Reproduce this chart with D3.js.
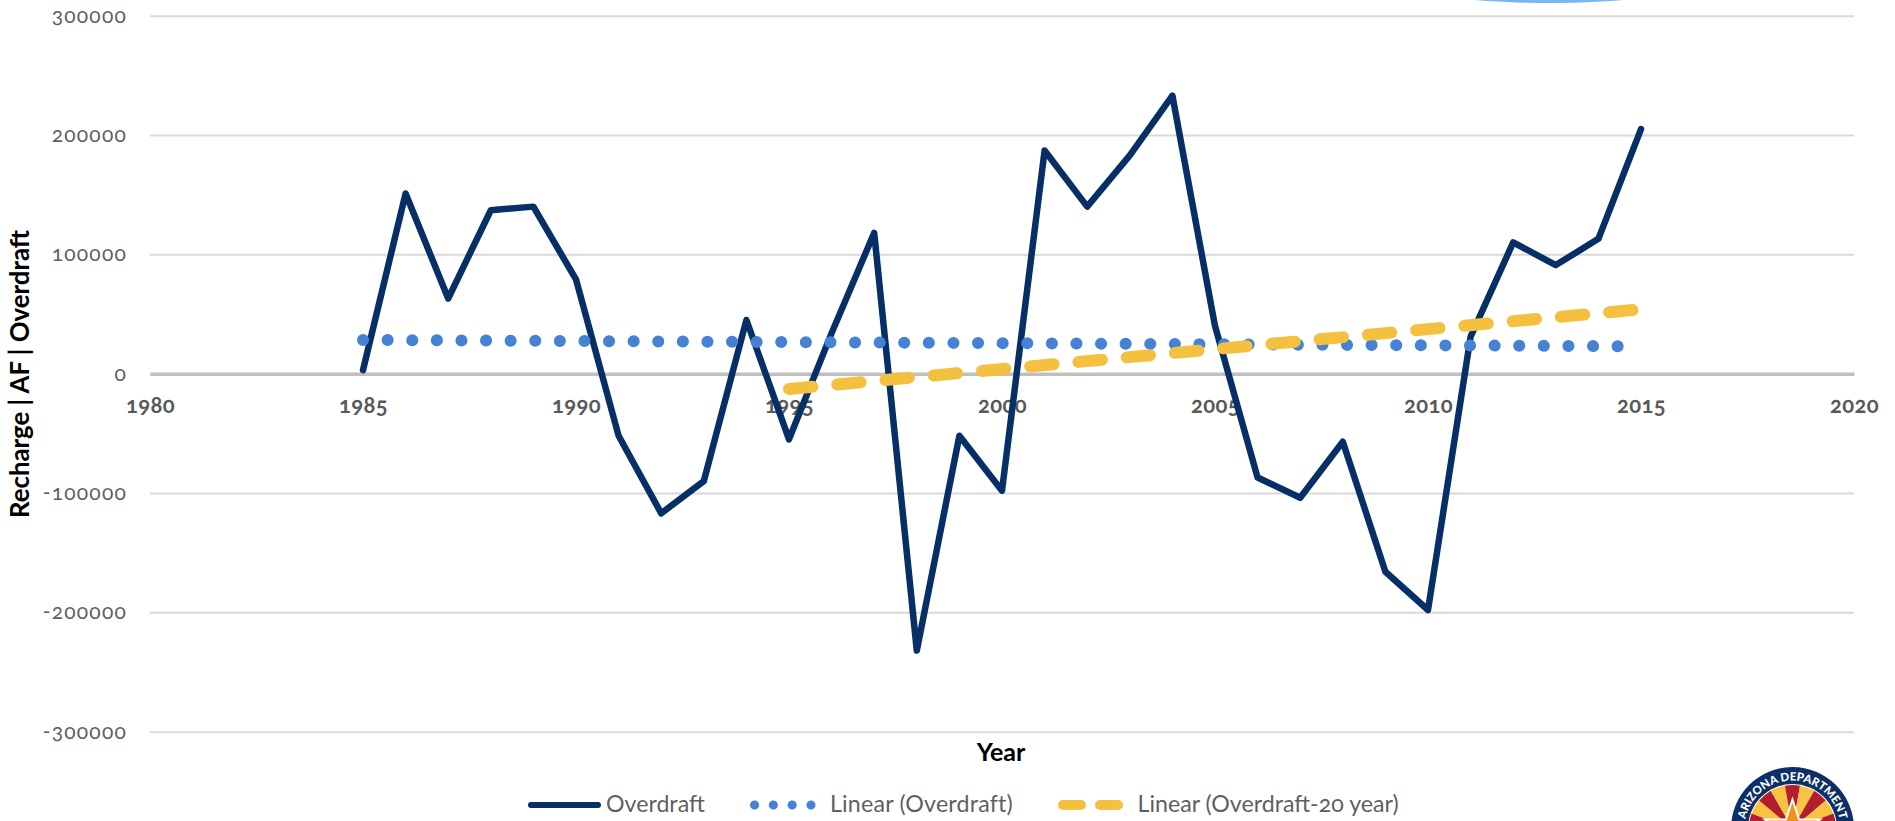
<!DOCTYPE html>
<html><head><meta charset="utf-8">
<script src="https://cdn.jsdelivr.net/npm/d3@7/dist/d3.min.js"></script>
<style>html,body{margin:0;background:#fff;overflow:hidden}svg{display:block}svg text{font-family:Lato,"Open Sans",sans-serif;font-variant-numeric:oldstyle-nums}</style>
</head><body><svg id="c" width="1895" height="821"></svg>
<script>
const years=[1985,1986,1987,1988,1989,1990,1991,1992,1993,1994,1995,1996,1997,1998,1999,2000,2001,2002,2003,2004,2005,2006,2007,2008,2009,2010,2011,2012,2013,2014,2015];
const overdraft=[3000,151000,63000,137000,140000,79000,-52000,-117000,-90000,45000,-55000,34000,118000,-232000,-52000,-98000,187000,140000,183000,233000,40000,-87000,-104000,-57000,-166000,-198000,31000,110000,91000,113000,205000];
const trendAllYears=[1985,2014.5];
const trendAll=[28300,23000];
const trend20Years=[1995,2015];
const trend20=[-12800,54000];
const yTicks=[-300000,-200000,-100000,0,100000,200000,300000];
const xTicks=[1980,1985,1990,1995,2000,2005,2010,2015,2020];
const legendLabels=["Overdraft","Linear (Overdraft)","Linear (Overdraft-20 year)"];
const colors={navy:"#052f66",blue:"#4682d4",gold:"#f4c040"};

const svg=d3.select("#c");
const x=d3.scaleLinear().domain([1980,2020]).range([150,1854]);
const y=d3.scaleLinear().domain([-300000,300000]).range([731.7,15.7]);
const gy=svg.append("g").attr("transform","translate(150,0)")
 .call(d3.axisLeft(y).tickValues(yTicks).tickFormat(d=>String(d)).tickSize(0).tickPadding(23));
gy.select(".domain").remove();
gy.selectAll("text").attr("font-size",21).attr("fill","#5f5f5f").style("letter-spacing","1.2px").attr("dy","0.3em");
gy.selectAll("line").attr("x2",1704).attr("stroke","#d9d9d9").attr("stroke-width",2);
const gx=svg.append("g").attr("transform",`translate(0,${y(0)})`)
 .call(d3.axisBottom(x).tickValues(xTicks).tickFormat(d=>String(d)).tickSize(0).tickPadding(24));
gx.select(".domain").attr("stroke","#bfbfbf").attr("stroke-width",3.5);
gx.selectAll("text").attr("font-size",22).attr("font-weight",700).attr("fill","#595959").style("letter-spacing","0.4px");
const line=d3.line().x(d=>x(d[0])).y(d=>y(d[1]));
svg.append("ellipse").attr("cx",1549).attr("cy",-9).attr("rx",112).attr("ry",12).attr("fill","#7ab6f7");
svg.append("path").datum(years.map((v,i)=>[v,overdraft[i]])).attr("d",line).attr("fill","none").attr("stroke",colors.navy).attr("stroke-width",6.5).attr("stroke-linecap","round").attr("stroke-linejoin","round");
svg.append("path").datum(trendAllYears.map((v,i)=>[v,trendAll[i]])).attr("d",line).attr("fill","none").attr("stroke",colors.blue).attr("stroke-width",12).attr("stroke-linecap","round").attr("stroke-dasharray","0.1 24.5");
svg.append("path").datum(trend20Years.map((v,i)=>[v,trend20[i]])).attr("d",line).attr("fill","none").attr("stroke",colors.gold).attr("stroke-width",12).attr("stroke-linecap","round").attr("stroke-dasharray","23.5 24.95");
svg.append("text").attr("x",1001).attr("y",761).attr("text-anchor","middle").attr("font-size",25).attr("font-weight",700).attr("fill","#000").text("Year");
svg.append("text").attr("transform","translate(29,374) rotate(-90)").attr("text-anchor","middle").attr("font-size",25.8).attr("font-weight",700).attr("fill","#000").text("Recharge | AF | Overdraft");
const ly=805;
const lg=svg.append("g").attr("font-size",23.2).attr("fill","#5f5f5f");
lg.append("line").attr("x1",531).attr("x2",598).attr("y1",ly).attr("y2",ly).attr("stroke",colors.navy).attr("stroke-width",6).attr("stroke-linecap","round");
lg.append("text").attr("x",606).attr("y",ly+7).text(legendLabels[0]);
lg.append("line").attr("x1",754.5).attr("x2",812).attr("y1",ly).attr("y2",ly).attr("stroke",colors.blue).attr("stroke-width",9).attr("stroke-linecap","round").attr("stroke-dasharray","0.1 18.7");
lg.append("text").attr("x",830).attr("y",ly+7).style("letter-spacing","0.2px").text(legendLabels[1]);
lg.append("line").attr("x1",1063).attr("x2",1118).attr("y1",ly).attr("y2",ly).attr("stroke",colors.gold).attr("stroke-width",10).attr("stroke-linecap","round").attr("stroke-dasharray","18 19");
lg.append("text").attr("x",1137.5).attr("y",ly+7).text(legendLabels[2]);
// logo, cut by the page edge as in the reference
const R=61.5;
const logo=svg.append("g").attr("transform","translate(1792.5,828.5)");
logo.append("circle").attr("r",R).attr("fill","#0c2f66");
logo.append("circle").attr("r",44.5).attr("fill","#fff");
const arc=d3.arc().innerRadius(0).outerRadius(43.5);
d3.range(-100,101,20).forEach((a,i)=>logo.append("path").attr("d",arc({startAngle:(a-10)*Math.PI/180,endAngle:(a+10)*Math.PI/180})).attr("fill",i%2?"#b21e2c":"#f7c341"));
logo.append("path").attr("d",d3.symbol(d3.symbolStar,945)()).attr("fill","#ef8f1c").attr("stroke","#fff").attr("stroke-width",2);
logo.append("path").attr("id","la").attr("d",d3.arc()({innerRadius:48,outerRadius:48,startAngle:-1.5,endAngle:1.5})).attr("fill","none");
logo.append("text").attr("font-size",11.5).attr("font-weight",900).attr("fill","#fff").append("textPath").attr("href","#la").attr("startOffset","25%").attr("text-anchor","middle").text("ARIZONA DEPARTMENT");
</script></body></html>
